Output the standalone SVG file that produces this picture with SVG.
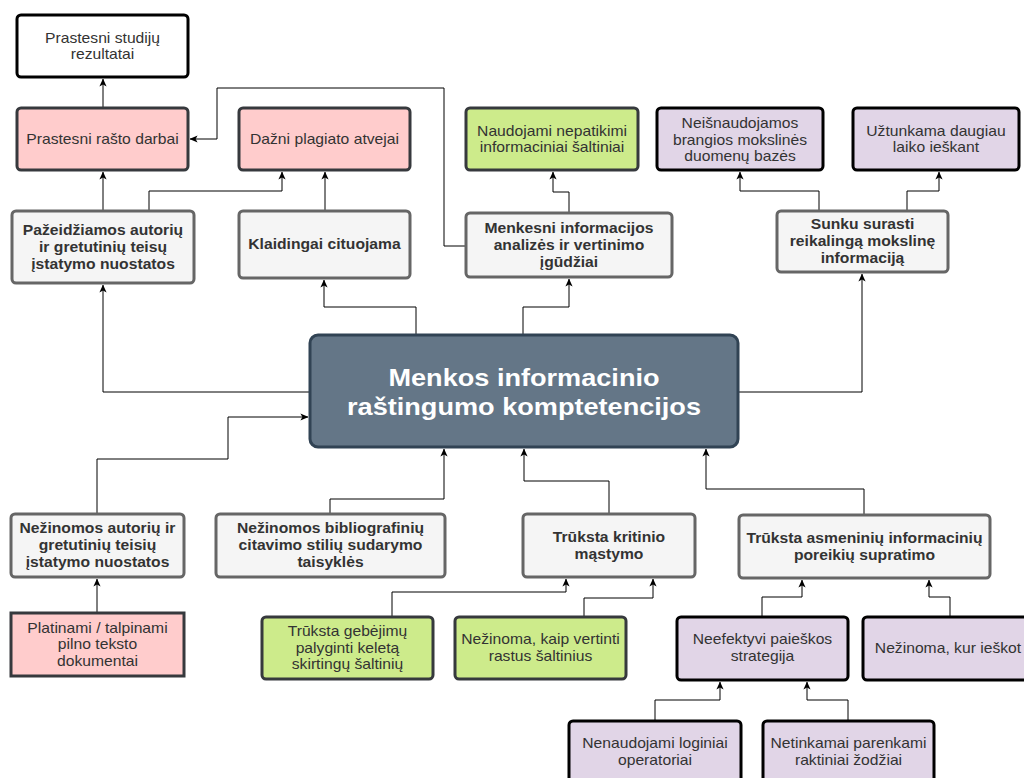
<svg xmlns="http://www.w3.org/2000/svg" width="1024" height="778" viewBox="0 0 1024 778">
<style>
.n rect{stroke-width:3}
.wh{fill:#ffffff;stroke:#000000}
.pk{fill:#ffcccc;stroke:#36393d}
.gr{fill:#cdeb8b;stroke:#36393d}
.pu{fill:#e1d5e7;stroke:#000000}
.gy{fill:#f5f5f5;stroke:#666666}
.ce{fill:#647687;stroke:#314354}
text{font-family:"Liberation Sans",Arial,Helvetica,sans-serif;text-anchor:middle}
.t{font-size:14px;fill:#333333}
.b{font-size:14px;font-weight:bold;fill:#333333}
.c{font-size:24px;font-weight:bold;fill:#ffffff}
#edges path{fill:none;stroke:#000000;stroke-width:1;marker-end:url(#arr)}
</style>
<defs>
<marker id="arr" viewBox="0 0 10 10" refX="9.5" refY="5" markerWidth="8" markerHeight="8" orient="auto" markerUnits="userSpaceOnUse">
<path d="M0,0.5 L10,5 L0,9.5 L2.5,5 z" fill="#000000"/>
</marker>
</defs>
<rect width="1024" height="778" fill="#ffffff"/>
<g id="edges">
<path d="M103,108 V79"/>
<path d="M103,211 V172"/>
<path d="M149,211 V191 H282 V172"/>
<path d="M325,211 V172"/>
<path d="M466,246 H444 V88 H217 V139 H190"/>
<path d="M569,213 V192 H553 V172"/>
<path d="M819,211 V191 H740 V172"/>
<path d="M907,211 V191 H939 V172"/>
<path d="M310,392 H103 V285"/>
<path d="M416,335 V307 H324 V280"/>
<path d="M523,335 V307 H569 V279"/>
<path d="M738,392 H862 V274"/>
<path d="M97,514 V459 H228 V417 H308"/>
<path d="M330,514 V499 H444 V449"/>
<path d="M609,514 V481 H524 V449"/>
<path d="M864,515 V489 H706 V449"/>
<path d="M97,613 V579"/>
<path d="M392,617 V592 H566 V579"/>
<path d="M584,617 V598 H653 V579"/>
<path d="M762,617 V597 H802 V580"/>
<path d="M950,617 V597 H929 V580"/>
<path d="M655,721 V700 H720 V682"/>
<path d="M848,721 V700 H807 V682"/>
</g>
<g id="studiju" class="n"><rect class="wh" x="17" y="15" width="171" height="62" rx="4"/>
<text class="t" transform="translate(102.5 0) scale(1.12 1)"><tspan x="0" y="43">Prastesni studijų</tspan><tspan x="0" y="59.5">rezultatai</tspan></text></g>
<g id="rasto" class="n"><rect class="pk" x="17" y="108" width="171" height="62" rx="4"/>
<text class="t" transform="translate(102.5 0) scale(1.12 1)"><tspan x="0" y="144.5">Prastesni rašto darbai</tspan></text></g>
<g id="plagiato" class="n"><rect class="pk" x="239" y="108" width="171" height="62" rx="4"/>
<text class="t" transform="translate(324.5 0) scale(1.12 1)"><tspan x="0" y="144.5">Dažni plagiato atvejai</tspan></text></g>
<g id="naudojami" class="n"><rect class="gr" x="466" y="108" width="172" height="62" rx="4"/>
<text class="t" transform="translate(552 0) scale(1.12 1)"><tspan x="0" y="136">Naudojami nepatikimi</tspan><tspan x="0" y="152.5">informaciniai šaltiniai</tspan></text></g>
<g id="duomenu" class="n"><rect class="pu" x="657" y="108" width="166" height="62" rx="4"/>
<text class="t" transform="translate(740 0) scale(1.12 1)"><tspan x="0" y="128.5">Neišnaudojamos</tspan><tspan x="0" y="145">brangios mokslinės</tspan><tspan x="0" y="161.5">duomenų bazės</tspan></text></g>
<g id="laiko" class="n"><rect class="pu" x="853" y="108" width="166" height="62" rx="4"/>
<text class="t" transform="translate(936 0) scale(1.12 1)"><tspan x="0" y="136">Užtunkama daugiau</tspan><tspan x="0" y="152.5">laiko ieškant</tspan></text></g>
<g id="pazeidziamos" class="n"><rect class="gy" x="12" y="211" width="182" height="72" rx="4"/>
<text class="b" transform="translate(103 0) scale(1.12 1)"><tspan x="0" y="235">Pažeidžiamos autorių</tspan><tspan x="0" y="252">ir gretutinių teisų</tspan><tspan x="0" y="269">įstatymo nuostatos</tspan></text></g>
<g id="klaidingai" class="n"><rect class="gy" x="239" y="211" width="171" height="67" rx="4"/>
<text class="b" transform="translate(324.5 0) scale(1.12 1)"><tspan x="0" y="249.5">Klaidingai cituojama</tspan></text></g>
<g id="menkesni" class="n"><rect class="gy" x="466" y="213" width="206" height="64" rx="4"/>
<text class="b" transform="translate(569 0) scale(1.12 1)"><tspan x="0" y="233">Menkesni informacijos</tspan><tspan x="0" y="250">analizės ir vertinimo</tspan><tspan x="0" y="267">įgūdžiai</tspan></text></g>
<g id="sunku" class="n"><rect class="gy" x="777" y="211" width="171" height="61" rx="4"/>
<text class="b" transform="translate(862.5 0) scale(1.12 1)"><tspan x="0" y="229.5">Sunku surasti</tspan><tspan x="0" y="246.5">reikalingą mokslinę</tspan><tspan x="0" y="263.5">informaciją</tspan></text></g>
<g id="central" class="n"><rect class="ce" x="310" y="335" width="428" height="112" rx="8"/>
<text class="c" transform="translate(524 0) scale(1.13 1)"><tspan x="0" y="386">Menkos informacinio</tspan><tspan x="0" y="415">raštingumo komptetencijos</tspan></text></g>
<g id="autoriu" class="n"><rect class="gy" x="11" y="514" width="173" height="63" rx="4"/>
<text class="b" transform="translate(97.5 0) scale(1.12 1)"><tspan x="0" y="533.5">Nežinomos autorių ir</tspan><tspan x="0" y="550.5">gretutinių teisių</tspan><tspan x="0" y="567.5">įstatymo nuostatos</tspan></text></g>
<g id="bibliografiniu" class="n"><rect class="gy" x="216" y="514" width="229" height="63" rx="4"/>
<text class="b" transform="translate(330.5 0) scale(1.12 1)"><tspan x="0" y="533.5">Nežinomos bibliografinių</tspan><tspan x="0" y="550.5">citavimo stilių sudarymo</tspan><tspan x="0" y="567.5">taisyklės</tspan></text></g>
<g id="kritinio" class="n"><rect class="gy" x="523" y="514" width="172" height="63" rx="4"/>
<text class="b" transform="translate(609 0) scale(1.12 1)"><tspan x="0" y="542">Trūksta kritinio</tspan><tspan x="0" y="559">mąstymo</tspan></text></g>
<g id="asmeniniu" class="n"><rect class="gy" x="739" y="515" width="251" height="63" rx="4"/>
<text class="b" transform="translate(864.5 0) scale(1.12 1)"><tspan x="0" y="543">Trūksta asmeninių informacinių</tspan><tspan x="0" y="560">poreikių supratimo</tspan></text></g>
<g id="platinami" class="n"><rect class="pk" x="11" y="613" width="173" height="63"/>
<text class="t" transform="translate(97.5 0) scale(1.12 1)"><tspan x="0" y="633">Platinami / talpinami</tspan><tspan x="0" y="649.5">pilno teksto</tspan><tspan x="0" y="666">dokumentai</tspan></text></g>
<g id="gebejimu" class="n"><rect class="gr" x="262" y="617" width="171" height="62" rx="4"/>
<text class="t" transform="translate(347.5 0) scale(1.12 1)"><tspan x="0" y="636.5">Trūksta gebėjimų</tspan><tspan x="0" y="653">palyginti keletą</tspan><tspan x="0" y="669.5">skirtingų šaltinių</tspan></text></g>
<g id="vertinti" class="n"><rect class="gr" x="455" y="617" width="171" height="62" rx="4"/>
<text class="t" transform="translate(540.5 0) scale(1.12 1)"><tspan x="0" y="644.5">Nežinoma, kaip vertinti</tspan><tspan x="0" y="661">rastus šaltinius</tspan></text></g>
<g id="neefektyvi" class="n"><rect class="pu" x="677" y="617" width="171" height="63" rx="4"/>
<text class="t" transform="translate(762.5 0) scale(1.12 1)"><tspan x="0" y="644.5">Neefektyvi paieškos</tspan><tspan x="0" y="661">strategija</tspan></text></g>
<g id="kur" class="n"><rect class="pu" x="863" y="617" width="171" height="63" rx="4"/>
<text class="t" transform="translate(948 0) scale(1.12 1)"><tspan x="0" y="653.5">Nežinoma, kur ieškot</tspan></text></g>
<g id="loginiai" class="n"><rect class="pu" x="569" y="721" width="172" height="62" rx="4"/>
<text class="t" transform="translate(655 0) scale(1.12 1)"><tspan x="0" y="748.5">Nenaudojami loginiai</tspan><tspan x="0" y="765">operatoriai</tspan></text></g>
<g id="raktiniai" class="n"><rect class="pu" x="763" y="721" width="171" height="62" rx="4"/>
<text class="t" transform="translate(848.5 0) scale(1.12 1)"><tspan x="0" y="748.5">Netinkamai parenkami</tspan><tspan x="0" y="765">raktiniai žodžiai</tspan></text></g>
</svg>
